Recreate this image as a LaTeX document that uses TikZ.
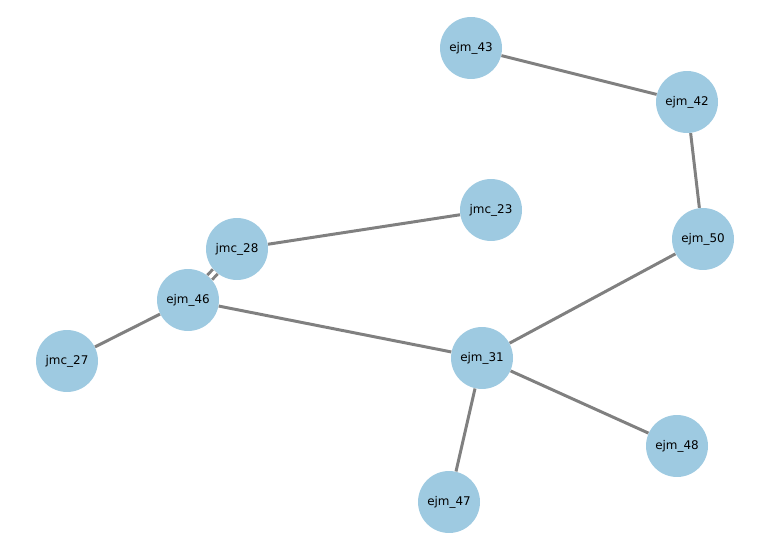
\documentclass[tikz,border=0pt]{standalone}
\usepackage{fontspec}
\setmainfont{DejaVu Sans}
\definecolor{nodeblue}{RGB}{158,202,225}
\definecolor{edgegray}{RGB}{128,128,128}
\usetikzlibrary{arrows.meta,positioning}

\begin{document}
\begin{tikzpicture}[x=0.02cm,y=-0.02cm,
  vertex/.style={circle,fill=nodeblue,minimum size=1.24cm,inner sep=0pt,font=\fontsize{6.8}{8}\selectfont},
  link/.style={edgegray,line width=1.7pt}]
  \useasboundingbox (0,0) rectangle (770,550);
  \node[vertex] (ejm43) at (471,48) {ejm\_43};
  \node[vertex] (ejm42) at (687,102) {ejm\_42};
  \node[vertex] (jmc23) at (491,210) {jmc\_23};
  \node[vertex] (ejm50) at (703,239) {ejm\_50};
  \node[vertex] (jmc28) at (237,249) {jmc\_28};
  \node[vertex] (ejm46) at (188,300) {ejm\_46};
  \node[vertex] (jmc27) at (67,361) {jmc\_27};
  \node[vertex] (ejm31) at (482,358) {ejm\_31};
  \node[vertex] (ejm48) at (677,446) {ejm\_48};
  \node[vertex] (ejm47) at (449,502) {ejm\_47};
  \foreach \a/\b in {ejm43/ejm42,ejm42/ejm50,ejm50/ejm31,jmc23/jmc28,ejm46/jmc27,ejm46/ejm31,ejm31/ejm48,ejm31/ejm47}
    {\draw[link] (\a)--(\b);}
  \draw[link,double=white,double distance=2pt] (jmc28)--(ejm46);
\end{tikzpicture}
\end{document}
